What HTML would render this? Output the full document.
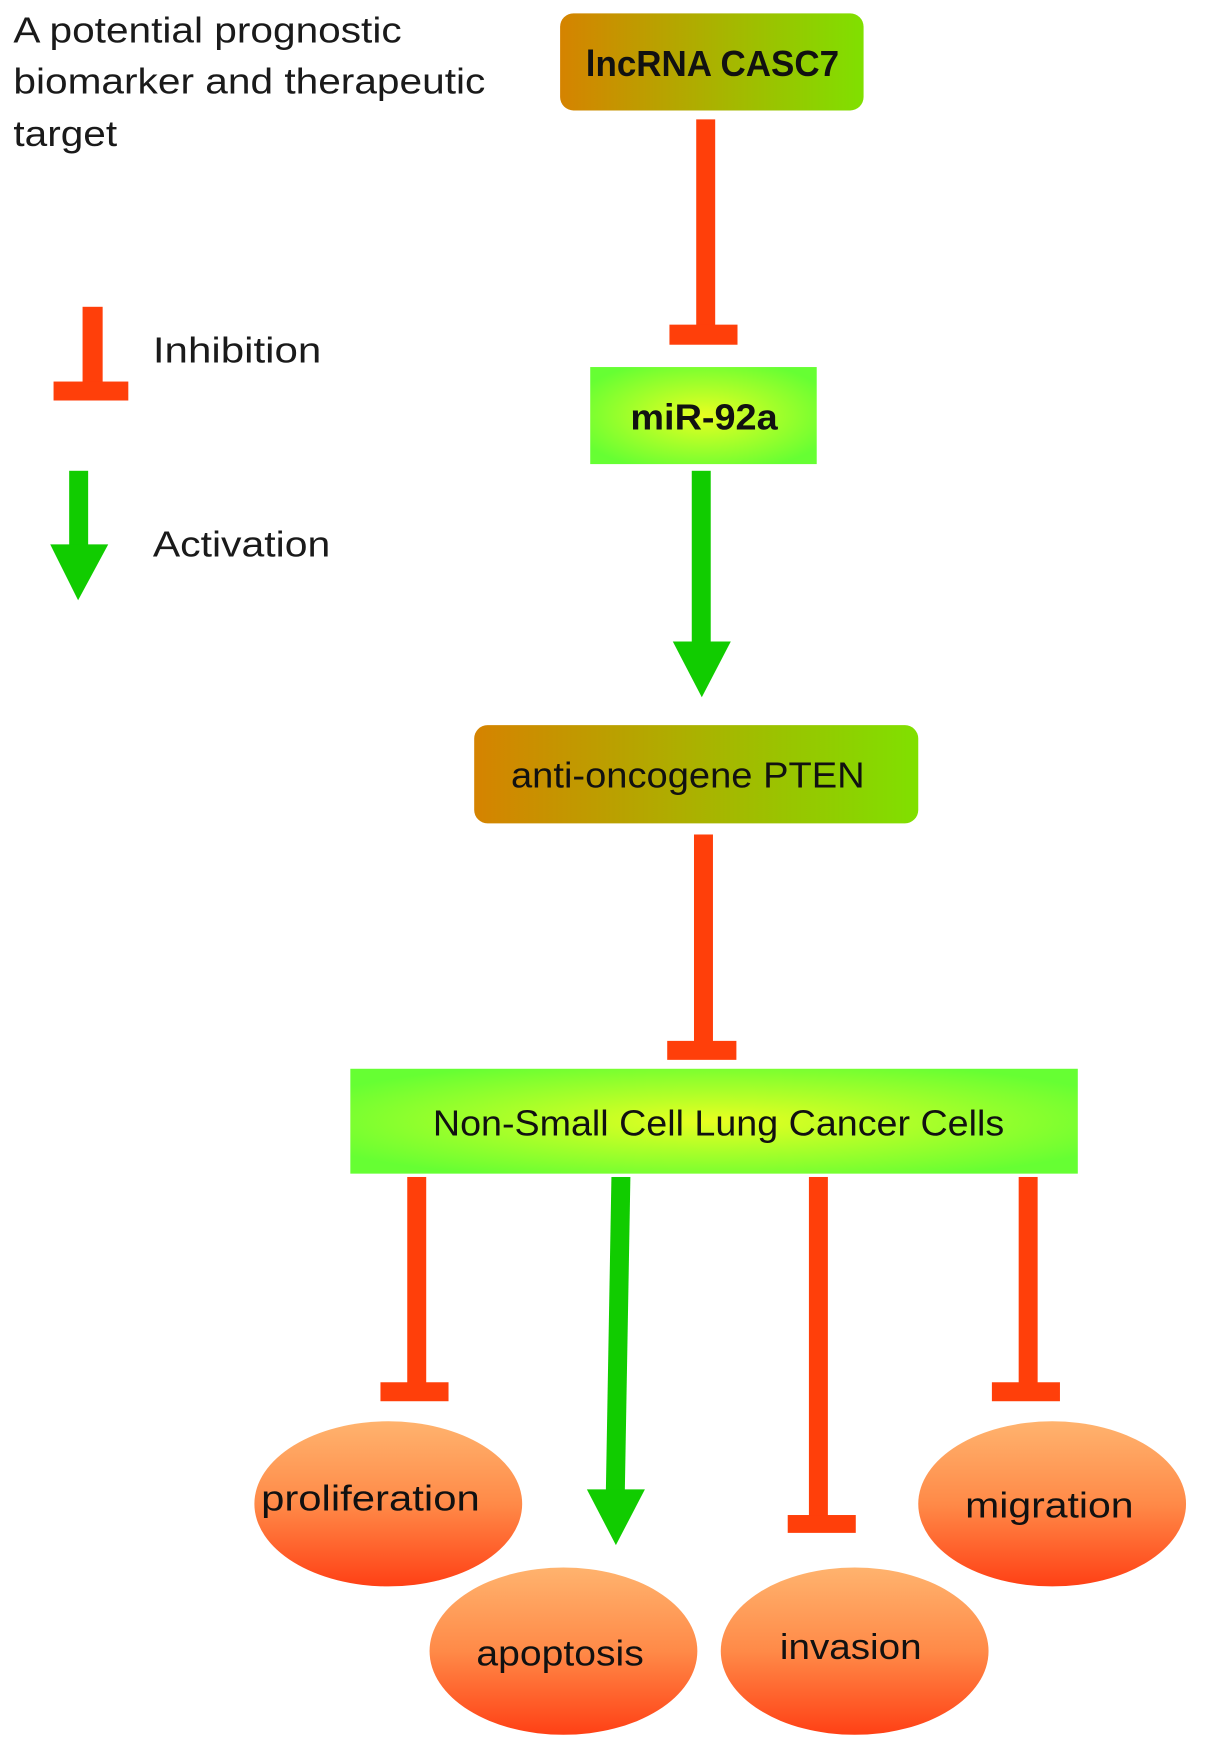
<!DOCTYPE html>
<html><head><meta charset="utf-8"><style>html,body{margin:0;padding:0;background:#fff}svg{display:block}</style></head><body>
<svg width="1205" height="1756" viewBox="0 0 1080 1574" preserveAspectRatio="none" xmlns="http://www.w3.org/2000/svg" font-family="'Liberation Sans', sans-serif">
<defs>
<linearGradient id="og" x1="0" y1="0" x2="1" y2="0"><stop offset="0" stop-color="#d58300"/><stop offset="1" stop-color="#80e000"/></linearGradient>
<radialGradient id="yg" cx="0.5" cy="0.5" r="0.6"><stop offset="0" stop-color="#e8ff20"/><stop offset="1" stop-color="#66ff33"/></radialGradient>
<linearGradient id="el" x1="0" y1="0" x2="0" y2="1"><stop offset="0" stop-color="#ffb36e"/><stop offset="0.5" stop-color="#ff8a48"/><stop offset="1" stop-color="#ff4015"/></linearGradient>
</defs>
<g fill="#1a1a1a" font-size="32">
<text x="12" y="38" textLength="348" lengthAdjust="spacingAndGlyphs">A potential prognostic</text>
<text x="12" y="84" textLength="423" lengthAdjust="spacingAndGlyphs">biomarker and therapeutic</text>
<text x="12" y="131" textLength="93" lengthAdjust="spacingAndGlyphs">target</text>
<text x="137" y="325" textLength="151" lengthAdjust="spacingAndGlyphs">Inhibition</text>
<text x="137" y="499" textLength="159" lengthAdjust="spacingAndGlyphs">Activation</text>
</g>
<g fill="#ff3f0a">
<rect x="74" y="275" width="18" height="72"/><rect x="48" y="342" width="67" height="17"/>
<rect x="624" y="107" width="17" height="190"/><rect x="600" y="291" width="61" height="18"/>
<rect x="622" y="748" width="17" height="190"/><rect x="598" y="933" width="62" height="17"/>
<rect x="365" y="1055" width="17" height="188"/><rect x="341" y="1239" width="61" height="17"/>
<rect x="725" y="1055" width="17" height="306"/><rect x="706" y="1358" width="61" height="16"/>
<rect x="913" y="1055" width="17" height="188"/><rect x="889" y="1239" width="61" height="17"/>
</g>
<g fill="#11cc00">
<rect x="62" y="422" width="17" height="68"/><polygon points="45,488 97,488 70,538"/>
<rect x="620" y="422" width="17" height="155"/><polygon points="603,575 655,575 629,625"/>
<polygon points="548,1055 565,1055 560,1337 543,1337"/><polygon points="526,1335 578,1335 552,1385"/>
</g>
<rect x="502" y="12" width="272" height="87" rx="12" fill="url(#og)"/>
<text x="525" y="68" font-size="32" font-weight="bold" fill="#111" textLength="227" lengthAdjust="spacingAndGlyphs">lncRNA CASC7</text>
<rect x="529" y="329" width="203" height="87" fill="url(#yg)"/>
<text x="565" y="385" font-size="32" font-weight="bold" fill="#111" textLength="132" lengthAdjust="spacingAndGlyphs">miR-92a</text>
<rect x="425" y="650" width="398" height="88" rx="12" fill="url(#og)"/>
<text x="458" y="706" font-size="32" fill="#111" textLength="317" lengthAdjust="spacingAndGlyphs">anti-oncogene PTEN</text>
<rect x="314" y="958" width="652" height="94" fill="url(#yg)"/>
<text x="388" y="1018" font-size="32" fill="#111" textLength="512" lengthAdjust="spacingAndGlyphs">Non-Small Cell Lung Cancer Cells</text>
<g fill="url(#el)">
<ellipse cx="348" cy="1348" rx="120" ry="74"/>
<ellipse cx="505" cy="1480" rx="120" ry="75"/>
<ellipse cx="766" cy="1480" rx="120" ry="75"/>
<ellipse cx="943" cy="1348" rx="120" ry="74"/>
</g>
<g font-size="32" fill="#111">
<text x="234" y="1354" textLength="196" lengthAdjust="spacingAndGlyphs">proliferation</text>
<text x="427" y="1493" textLength="150" lengthAdjust="spacingAndGlyphs">apoptosis</text>
<text x="699" y="1487" textLength="127" lengthAdjust="spacingAndGlyphs">invasion</text>
<text x="865" y="1360" textLength="151" lengthAdjust="spacingAndGlyphs">migration</text>
</g>
</svg>
</body></html>
